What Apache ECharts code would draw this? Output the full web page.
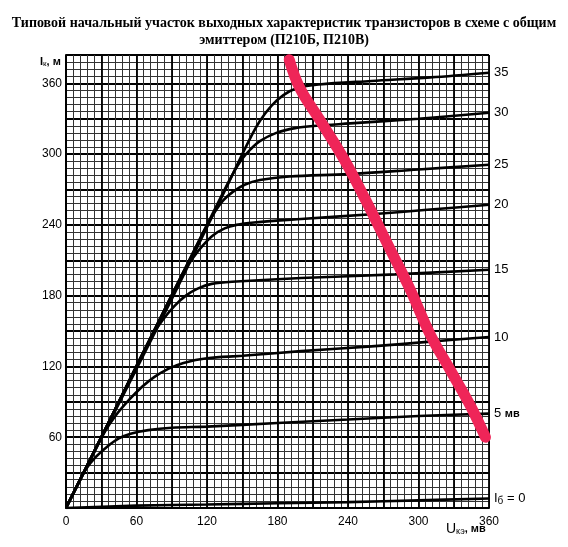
<!DOCTYPE html>
<html>
<head>
<meta charset="utf-8">
<script src="https://cdn.jsdelivr.net/npm/echarts@6/dist/echarts.min.js"></script>
<style>
    html, body { margin: 0; padding: 0; background: #fff; }
    #chart { width: 568px; height: 547px; }
</style>
</head>
<body>
<div id="chart"></div>
<script type="text/javascript">
    // characteristic curves Ik(Uke) for each base current
    var ib0  = [[0,0],[60,2],[120,3],[180,4],[240,5],[300,6.5],[360,8]];
    var ib5  = [[0,0],[10,20],[17,33],[25,43],[35,52],[45,59],[55,63],[70,66],[90,68],[120,69],[180,72],[240,75],[300,78],[360,80]];
    var ib10 = [[0,0],[20,40],[32,63],[42,78],[54,92],[65,103],[75,111],[87,118],[100,123],[120,127],[150,129],[200,133],[260,137],[310,141],[360,145]];
    var ib15 = [[0,0],[40,80],[72,144],[82,159],[92,171],[102,180],[112,186],[124,190],[145,192],[200,195],[280,198],[360,202]];
    var ib20 = [[0,0],[50,100],[100,200],[108,212],[116,222],[125,231],[135,237],[145,240],[160,242],[200,245],[260,249],[310,253],[360,257]];
    var ib25 = [[0,0],[60,120],[118,236],[126,250],[134,261],[142,268],[152,274],[165,278],[190,281],[240,283],[300,287],[360,291]];
    var ib30 = [[0,0],[70,140],[135,270],[143,285],[150,296],[157,304],[165,311],[179,318],[195,322],[213,324],[242,326],[300,330],[360,335]];
    var ib35 = [[0,0],[30,59],[60,118],[90,177],[120,238],[140,279],[155,310],[165,328],[175,341],[185,350],[197,356],[215,359],[260,362],[310,365],[360,369]];
    // hand-drawn red marker line
    var redLine = [[190,380],[199,356],[216,329],[237,295],[255,261],[276,219],[293,185],[310,147],[327,117],[344,87],[357,60]];

    var curves = [ib0, ib5, ib10, ib15, ib20, ib25, ib30, ib35];
    var curveLabels = ['{a|I}{s|б}{a| = 0}', '{a|5 }{b|мв}', '10', '15', '20', '25', '30', '35'];
    var xMax = 360;
    var yMax = 384;

    var myChart = echarts.init(document.getElementById('chart'));

    var series = curves.map(function(d, i) {
        return {
            type: 'line',
            data: d,
            smooth: 0.35,
            showSymbol: false,
            lineStyle: { color: '#000', width: 2.6 },
            endLabel: {
                show: true,
                distance: 5,
                color: '#000',
                fontFamily: 'Liberation Sans',
                fontSize: 13,
                formatter: function() { return curveLabels[i]; },
                rich: {
                    a: { fontFamily: 'Liberation Sans', fontSize: 13, color: '#000' },
                    b: { fontFamily: 'Liberation Sans', fontSize: 11, fontWeight: 'bold', color: '#000' },
                    s: { fontFamily: 'Liberation Sans', fontSize: 10, color: '#000', verticalAlign: 'bottom', padding: [6, 0, 0, 0] }
                }
            },
            z: 3
        };
    });
    series.push({
        type: 'line',
        data: redLine,
        smooth: 0.4,
        showSymbol: false,
        lineStyle: { color: '#ef2558', width: 11, cap: 'round', join: 'round' },
        z: 4
    });

    var option = {
        animation: false,
        backgroundColor: '#fff',
        title: {
            text: 'Типовой начальный участок выходных характеристик транзисторов в схеме с общим\nэмиттером (П210Б, П210В)',
            left: 'center',
            top: 10,
            textStyle: {
                fontFamily: 'Liberation Serif',
                fontWeight: 'bold',
                fontSize: 14,
                lineHeight: 17,
                color: '#000'
            }
        },
        grid: { left: 66, right: 79, top: 55, bottom: 39 },
        xAxis: [
            {
                type: 'value', min: 0, max: xMax, interval: 6,
                axisLine: { lineStyle: { color: '#000', width: 2 } },
                axisTick: { show: false },
                axisLabel: {
                    color: '#000', fontFamily: 'Liberation Sans', fontSize: 12, margin: 8,
                    formatter: function(v) { return v % 60 === 0 ? v : ''; }
                },
                splitLine: { lineStyle: { color: '#333', width: 1 } }
            },
            {
                type: 'value', min: 0, max: xMax, interval: 30, position: 'bottom',
                axisLine: { show: false }, axisTick: { show: false }, axisLabel: { show: false },
                splitLine: { lineStyle: { color: '#000', width: 1.8 } }
            }
        ],
        yAxis: [
            {
                type: 'value', min: 0, max: yMax, interval: 6,
                axisLine: { show: true, lineStyle: { color: '#000', width: 2 } },
                axisTick: { show: false },
                axisLabel: {
                    color: '#000', fontFamily: 'Liberation Sans', fontSize: 12, margin: 4,
                    formatter: function(v) { return (v > 0 && v % 60 === 0) ? v : ''; }
                },
                splitLine: { lineStyle: { color: '#333', width: 1 } }
            },
            {
                type: 'value', min: 0, max: yMax, interval: 30, position: 'left',
                axisLine: { show: false }, axisTick: { show: false }, axisLabel: { show: false },
                splitLine: { lineStyle: { color: '#000', width: 1.8 } }
            }
        ],
        graphic: [
            {
                type: 'text', left: 40, top: 56,
                style: {
                    text: '{a|I}{s|к}{a|, м}',
                    rich: {
                        a: { fontFamily: 'Liberation Sans', fontSize: 11, fontWeight: 'bold', fill: '#000' },
                        s: { fontFamily: 'Liberation Sans', fontSize: 8, fill: '#000', padding: [5, 0, 0, 0] }
                    }
                }
            },
            {
                type: 'text', left: 446, top: 522,
                style: {
                    text: '{a|U}{s|кэ}{b|, мв}',
                    rich: {
                        a: { fontFamily: 'Liberation Sans', fontSize: 14, fill: '#000' },
                        s: { fontFamily: 'Liberation Sans', fontSize: 9, fill: '#000', padding: [6, 0, 0, 0] },
                        b: { fontFamily: 'Liberation Sans', fontSize: 11, fontWeight: 'bold', fill: '#000' }
                    }
                }
            }
        ],
        series: series
    };
    myChart.setOption(option);
</script>
</body>
</html>
